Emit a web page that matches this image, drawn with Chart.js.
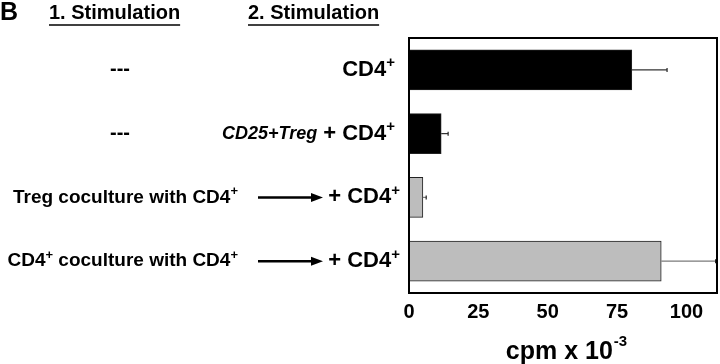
<!DOCTYPE html>
<html>
<head>
<meta charset="utf-8">
<script src="https://cdn.jsdelivr.net/npm/chart.js@4/dist/chart.umd.min.js"></script>
<style>
  html, body { margin: 0; padding: 0; background: #fff; }
  #chart { display: block; }
</style>
</head>
<body>
<canvas id="chart" width="720" height="364"></canvas>
<script>
// données (cpm x 10^-3)
const rows = ['a', 'b', 'c', 'd'];
const firstStim = ['---', '---', 'Treg coculture with CD4⁺', 'CD4⁺ coculture with CD4⁺'];
const secondPrefix = ['', 'CD25+Treg', '', ''];
const secondStim = ['CD4⁺', '+ CD4⁺', '+ CD4⁺', '+ CD4⁺'];
const hasArrow = [false, false, true, true];
const cpm = [80.3, 11.6, 5.0, 90.9];
const cpmErr = [12.7, 2.5, 1.2, 19.6];
const barColors = ['#000000', '#000000', '#bdbdbd', '#bdbdbd'];
const xTicks = [0, 25, 50, 75, 100];

const FONT = "'Liberation Sans', Arial, Helvetica, sans-serif";

// texte avec exposant "⁺" dessiné à la main
function richParts(text) {
  const parts = [];
  text.split('⁺').forEach((seg, i, arr) => {
    if (seg) parts.push({ t: seg, sup: false });
    if (i < arr.length - 1) parts.push({ t: '+', sup: true });
  });
  return parts;
}

function supSize(size) { return Math.round(size * 0.66); }

function richWidth(ctx, text, size, style) {
  let w = 0;
  richParts(text).forEach(p => {
    ctx.font = `${style} ${p.sup ? supSize(size) : size}px ${FONT}`;
    w += ctx.measureText(p.t).width;
  });
  return w;
}

function drawRich(ctx, text, x, y, size, align, style = 'bold') {
  const w = richWidth(ctx, text, size, style);
  let cx = align === 'right' ? x - w : align === 'center' ? x - w / 2 : x;
  ctx.textAlign = 'left';
  ctx.textBaseline = 'middle';
  richParts(text).forEach(p => {
    ctx.font = `${style} ${p.sup ? supSize(size) : size}px ${FONT}`;
    ctx.fillText(p.t, cx, p.sup ? y - size * 0.3 : y);
    cx += ctx.measureText(p.t).width;
  });
  return w;
}

const figurePlugin = {
  id: 'figure',
  afterDatasetsDraw(chart) {
    const { ctx, chartArea: a, scales: { x, y } } = chart;
    ctx.save();
    // barres d'erreur
    cpm.forEach((v, i) => {
      const yc = y.getPixelForValue(i);
      const x0 = x.getPixelForValue(v);
      const x1 = x.getPixelForValue(v + cpmErr[i]);
      ctx.strokeStyle = i < 2 ? '#333' : '#7a7a7a';
      ctx.lineWidth = 1.2;
      ctx.beginPath();
      ctx.moveTo(x0, yc);
      ctx.lineTo(x1, yc);
      ctx.stroke();
      ctx.strokeStyle = '#222';
      ctx.beginPath();
      ctx.moveTo(x1, yc - 2);
      ctx.lineTo(x1, yc + 2);
      ctx.stroke();
    });
    // cadre
    ctx.strokeStyle = '#000';
    ctx.lineWidth = 2;
    ctx.strokeRect(a.left, a.top, a.right - a.left, a.bottom - a.top);
    ctx.restore();
  },
  afterDraw(chart) {
    const { ctx, scales: { y } } = chart;
    ctx.save();
    ctx.fillStyle = '#000';
    ctx.strokeStyle = '#000';

    ctx.font = `bold 25px ${FONT}`;
    ctx.textBaseline = 'middle';
    ctx.textAlign = 'left';
    ctx.fillText('B', 0, 13);

    // en-têtes soulignés
    [['1. Stimulation', 49], ['2. Stimulation', 248]].forEach(([t, hx]) => {
      ctx.font = `bold 20px ${FONT}`;
      ctx.fillText(t, hx, 13);
      const w = ctx.measureText(t).width;
      ctx.lineWidth = 1.5;
      ctx.beginPath();
      ctx.moveTo(hx, 25);
      ctx.lineTo(hx + w, 25);
      ctx.stroke();
    });

    rows.forEach((r, i) => {
      const yc = y.getPixelForValue(i);
      if (firstStim[i] === '---') drawRich(ctx, firstStim[i], 120, yc, 20, 'center');
      else drawRich(ctx, firstStim[i], 238, yc, 19, 'right');

      const right = hasArrow[i] ? 400 : 395;
      const w = drawRich(ctx, secondStim[i], right, yc, 22, 'right');
      if (secondPrefix[i]) {
        drawRich(ctx, secondPrefix[i], right - w - 6, yc, 18, 'right', 'italic bold');
      }
      if (hasArrow[i]) {
        ctx.lineWidth = 2.5;
        ctx.beginPath();
        ctx.moveTo(258, yc);
        ctx.lineTo(314, yc);
        ctx.stroke();
        ctx.beginPath();
        ctx.moveTo(323, yc);
        ctx.lineTo(311, yc - 4.5);
        ctx.lineTo(311, yc + 4.5);
        ctx.closePath();
        ctx.fill();
      }
    });

    // titre de l'axe x
    ctx.font = `bold 25px ${FONT}`;
    const t = 'cpm x 10';
    const tw = ctx.measureText(t).width;
    ctx.font = `bold 15px ${FONT}`;
    const sw = ctx.measureText('-3').width;
    const tx = 566 - (tw + sw) / 2;
    ctx.font = `bold 25px ${FONT}`;
    ctx.textAlign = 'left';
    ctx.fillText(t, tx, 352);
    ctx.font = `bold 15px ${FONT}`;
    ctx.fillText('-3', tx + tw + 1, 342);
    ctx.restore();
  }
};

new Chart(document.getElementById('chart'), {
  type: 'bar',
  data: {
    labels: rows,
    datasets: [{
      data: cpm,
      backgroundColor: barColors,
      borderColor: '#222',
      borderWidth: 1,
      barThickness: 40,
    }],
  },
  options: {
    indexAxis: 'y',
    responsive: false,
    animation: false,
    layout: { padding: { left: 409, right: 3, top: 38, bottom: 33 } },
    plugins: { legend: { display: false }, tooltip: { enabled: false } },
    scales: {
      y: { display: false, offset: true },
      x: {
        min: 0,
        max: 111,
        afterBuildTicks: scale => { scale.ticks = xTicks.map(v => ({ value: v })); },
        grid: { display: false, drawTicks: false },
        border: { display: false },
        ticks: { color: '#000', padding: 7, font: { family: FONT, size: 20, weight: 'bold' } },
      },
    },
  },
  plugins: [figurePlugin],
});
</script>
</body>
</html>
